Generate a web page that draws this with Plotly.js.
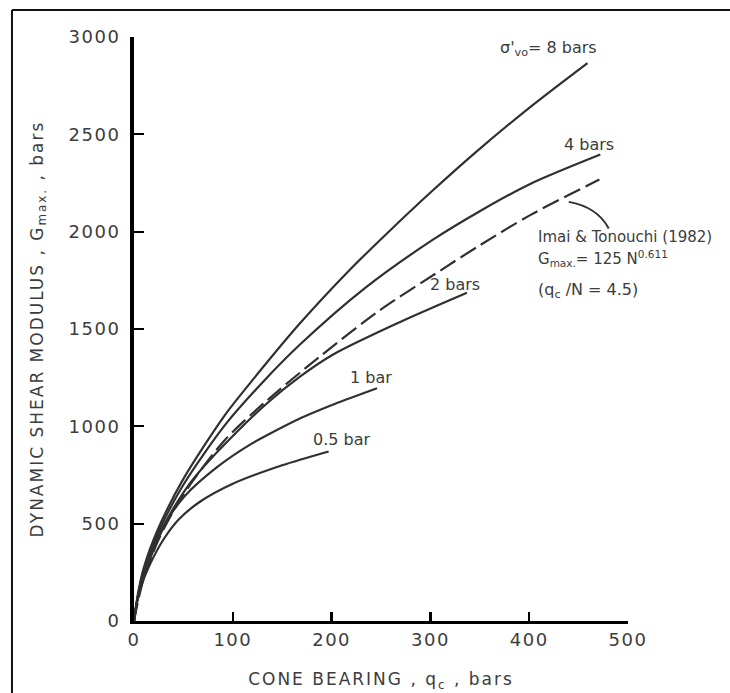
<!DOCTYPE html>
<html><head><meta charset="utf-8">
<script src="https://cdn.plot.ly/plotly-3.0.1.min.js"></script>
<style>
html,body{margin:0;padding:0;background:#fff;}
#chart{width:730px;height:693px;}
.xtitle,.ytitle{letter-spacing:2px;}
.xtick text,.ytick text{letter-spacing:1.5px;}
</style></head><body><div id="chart"></div>
<script>
// Cone bearing q_c (bars) vs dynamic shear modulus G_max (bars)
const q8 = [0, 4, 10, 25, 50, 92, 122, 168, 218, 256, 302, 344, 401, 459];
const g8 = [0, 140, 275, 480, 730, 1058, 1250, 1529, 1802, 1991, 2210, 2400, 2640, 2866];

const q4 = [0, 4, 10, 25, 50, 92, 130, 168, 235, 303, 350, 401, 472];
const g4 = [0, 130, 265, 460, 700, 1006, 1225, 1420, 1715, 1960, 2105, 2245, 2396];

const qImai = [0, 4, 10, 25, 50, 92, 134, 188, 249, 310, 350, 401, 471];
const gImai = [0, 100, 220, 420, 650, 930, 1130, 1358, 1597, 1800, 1930, 2085, 2268];

const q2 = [0, 4, 10, 25, 50, 65, 100, 135, 168, 202, 269, 337];
const g2 = [0, 125, 255, 440, 660, 760, 950, 1120, 1255, 1370, 1535, 1686];

const q1 = [0, 3, 8, 17, 34, 51, 85, 117, 136, 170, 203, 246];
const g1 = [0, 100, 205, 330, 520, 640, 794, 905, 958, 1045, 1115, 1196];

const q05 = [0, 3, 8, 17, 30, 45, 66, 100, 150, 197];
const g05 = [0, 95, 190, 300, 420, 520, 610, 705, 800, 871];

const xTicks = [0, 100, 200, 300, 400, 500];
const yTicks = [0, 500, 1000, 1500, 2000, 2500, 3000];

const FONT = '"DejaVu Sans", Verdana, sans-serif';
const INK = '#303030';
const TXT = '#3c3c3c';

function curve(x, y, name, dash) {
  return {x: x, y: y, name: name, type: 'scatter', mode: 'lines',
    line: {color: INK, width: 2.2, shape: 'spline', smoothing: 0.8, dash: dash || 'solid'},
    hoverinfo: 'skip'};
}

const data = [
  curve(q8, g8, "8 bars"),
  curve(q4, g4, "4 bars"),
  curve(qImai, gImai, "Imai & Tonouchi (1982)", '18px,6px'),
  curve(q2, g2, "2 bars"),
  curve(q1, g1, "1 bar"),
  curve(q05, g05, "0.5 bar")
];

const lab = {family: FONT, size: 16, color: TXT};
const small = {family: FONT, size: 15, color: TXT};

const layout = {
  width: 730, height: 693,
  margin: {l: 134, r: 102, t: 37, b: 72},
  paper_bgcolor: '#fff', plot_bgcolor: '#fff',
  showlegend: false,
  xaxis: {
    range: [0, 500], tickvals: xTicks, ticktext: xTicks.map(String),
    showgrid: false, zeroline: false, showline: true, linecolor: '#000', linewidth: 3,
    ticks: 'inside', ticklen: 9, tickwidth: 2.5, tickcolor: '#000',
    tickfont: {family: FONT, size: 18, color: TXT},
    title: {text: 'CONE BEARING , q<sub>c</sub> , bars', font: {family: FONT, size: 17, color: TXT}, standoff: 25}
  },
  yaxis: {
    range: [0, 3000], tickvals: yTicks, ticktext: yTicks.map(String),
    showgrid: false, zeroline: false, showline: true, linecolor: '#000', linewidth: 4,
    ticks: 'inside', ticklen: 10, tickwidth: 2, tickcolor: '#000',
    tickfont: {family: FONT, size: 18, color: TXT},
    ticklabelstandoff: 6,
    title: {text: 'DYNAMIC SHEAR MODULUS , G<sub>max.</sub> , bars', font: {family: FONT, size: 17, color: TXT}, standoff: 22}
  },
  annotations: [
    {x: 420, y: 2941, xref: 'x', yref: 'y', text: "σ'<sub>vo</sub>= 8 bars", showarrow: false, font: lab},
    {x: 461, y: 2449, xref: 'x', yref: 'y', text: '4 bars', showarrow: false, font: lab},
    {x: 298, y: 1731, xref: 'x', yref: 'y', text: '2 bars', showarrow: false, xanchor: 'left', font: lab},
    {x: 240, y: 1249, xref: 'x', yref: 'y', text: '1 bar', showarrow: false, font: lab},
    {x: 210, y: 931, xref: 'x', yref: 'y', text: '0.5 bar', showarrow: false, font: lab},
    {x: 407, y: 1972, xref: 'x', yref: 'y', text: 'Imai & Tonouchi (1982)', showarrow: false, xanchor: 'left', font: small},
    {x: 407, y: 1860, xref: 'x', yref: 'y', text: 'G<sub>max.</sub>= 125 N<sup>0.611</sup>', showarrow: false, xanchor: 'left', font: small},
    {x: 407, y: 1700, xref: 'x', yref: 'y', text: '(q<sub>c</sub> /N = 4.5)', showarrow: false, xanchor: 'left', font: lab}
  ],
  shapes: [
    {type: 'path', xref: 'x', yref: 'y', path: 'M 440,2153 Q 469,2127 480.5,2016', line: {color: INK, width: 2}},
    {type: 'line', xref: 'paper', yref: 'paper', x0: -0.247, x1: -0.247, y0: 1.0462, y1: -0.13, line: {color: '#111', width: 2}},
    {type: 'line', xref: 'paper', yref: 'paper', x0: -0.247, x1: 1.21, y0: 1.0462, y1: 1.0462, line: {color: '#111', width: 2}}
  ]
};

Plotly.newPlot('chart', data, layout, {staticPlot: true, displayModeBar: false});
</script></body></html>
